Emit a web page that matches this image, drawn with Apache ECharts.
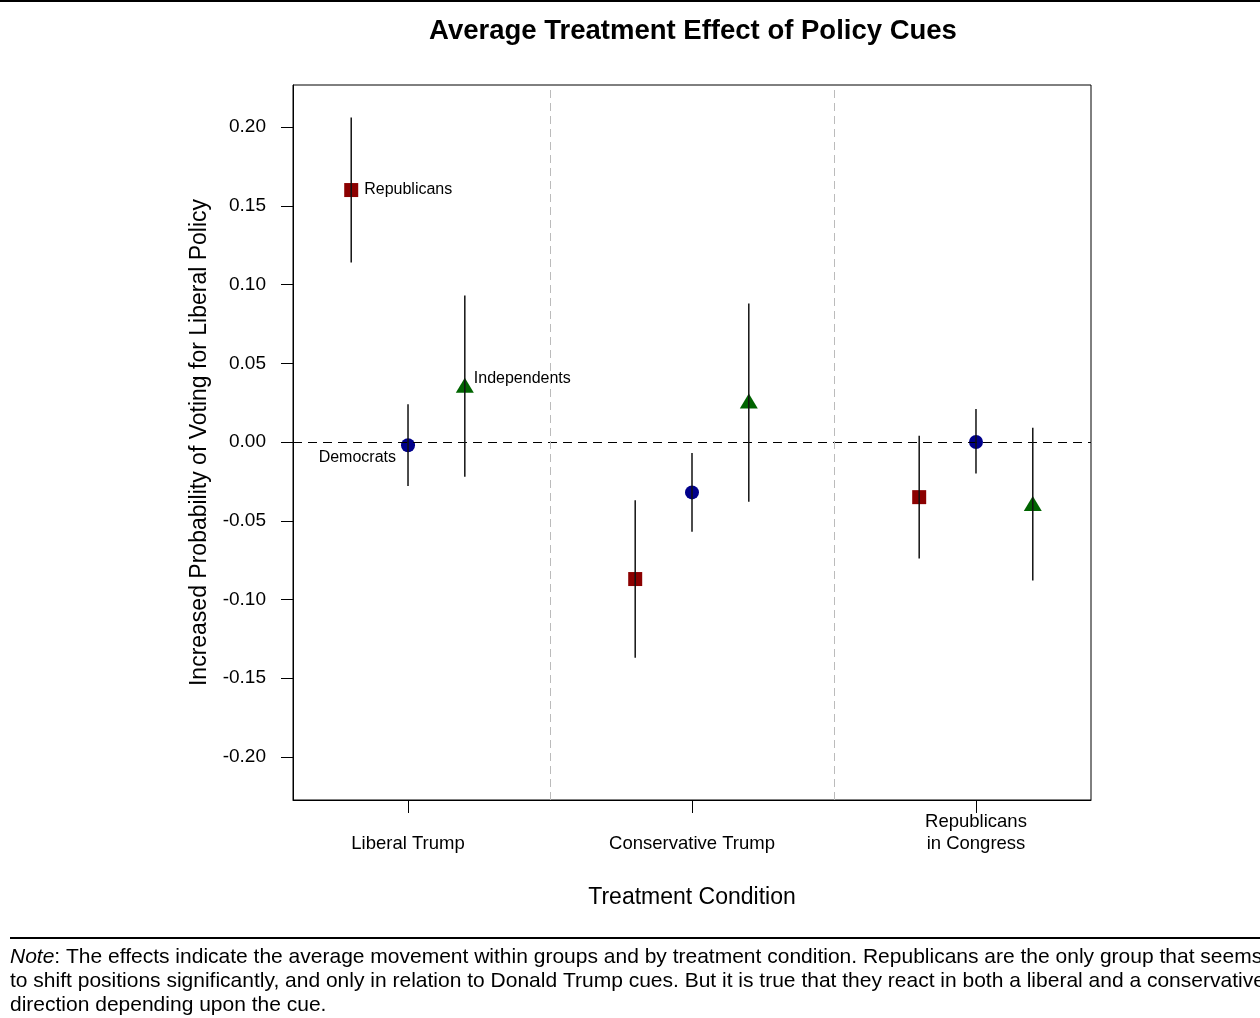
<!DOCTYPE html>
<html>
<head>
<meta charset="utf-8">
<title>Average Treatment Effect of Policy Cues</title>
<script src="https://cdn.jsdelivr.net/npm/echarts@6/dist/echarts.min.js"></script>
<style>
  html, body { margin: 0; padding: 0; background: #fff; }
  #main { width: 1260px; height: 1018px; }
</style>
</head>
<body>
<div id="main"></div>
<script>
// treatment conditions (x positions 1, 2, 3)
const conditions = ["Liberal Trump", "Conservative Trump", "Republicans\nin Congress"];
const yTicks = [-0.2, -0.15, -0.1, -0.05, 0, 0.05, 0.1, 0.15, 0.2];

// point estimates and confidence bounds
const repEst = [0.160, -0.087, -0.035];
const repLow = [0.114, -0.137, -0.074];
const repHigh = [0.206, -0.037, 0.004];

const demEst = [-0.002, -0.032, 0.000];
const demLow = [-0.028, -0.057, -0.020];
const demHigh = [0.024, -0.007, 0.021];

const indEst = [0.036, 0.026, -0.039];
const indLow = [-0.022, -0.038, -0.088];
const indHigh = [0.093, 0.088, 0.009];

const FONT = "'Liberation Sans', Arial, Helvetica, sans-serif";

const groups = [
  { name: "Republicans", offset: -0.2, est: repEst, low: repLow, high: repHigh, color: "#8B0000", symbol: "rect", size: 14,
    label: { position: "right", distance: 6, offset: [0, 0] } },
  { name: "Democrats", offset: 0, est: demEst, low: demLow, high: demHigh, color: "#00008B", symbol: "circle", size: 14,
    label: { position: "left", distance: 5, offset: [0, 12] } },
  { name: "Independents", offset: 0.2, est: indEst, low: indLow, high: indHigh, color: "#006400", symbol: "triangle", size: [18, 15],
    label: { position: "right", distance: 0, offset: [0, -7] } }
];

const chart = echarts.init(document.getElementById("main"));

const series = [];
groups.forEach((g) => {
  // error bars
  series.push({
    type: "custom",
    name: g.name + " CI",
    z: 5,
    silent: true,
    data: g.est.map((v, i) => [i + 1 + g.offset, g.low[i], g.high[i]]),
    renderItem: (params, api) => {
      const p1 = api.coord([api.value(0), api.value(1)]);
      const p2 = api.coord([api.value(0), api.value(2)]);
      return {
        type: "line",
        shape: { x1: p1[0], y1: p1[1], x2: p2[0], y2: p2[1] },
        style: { stroke: "#111", lineWidth: 1.5 }
      };
    }
  });
  // point estimates (only first condition gets a text label)
  series.push({
    type: "scatter",
    name: g.name,
    z: 3,
    symbol: g.symbol,
    symbolSize: g.size,
    itemStyle: { color: g.color, opacity: 1 },
    data: g.est.map((v, i) => {
      const item = { value: [i + 1 + g.offset, v] };
      if (i === 0) {
        item.label = {
          show: true,
          formatter: g.name,
          position: g.label.position,
          distance: g.label.distance,
          offset: g.label.offset,
          color: "#000",
          fontSize: 16,
          fontFamily: FONT
        };
      }
      return item;
    })
  });
});

// reference lines: zero line and condition separators
series.push({
  type: "line",
  data: [],
  markLine: {
    silent: true,
    symbol: "none",
    animation: false,
    label: { show: false },
    data: [
      { yAxis: 0, lineStyle: { color: "#000", type: [9, 6], width: 1.2 } },
      { xAxis: 1.5, lineStyle: { color: "#bbb", type: [8, 5], width: 1 } },
      { xAxis: 2.5, lineStyle: { color: "#bbb", type: [8, 5], width: 1 } }
    ]
  }
});

const option = {
  animation: false,
  backgroundColor: "#fff",
  textStyle: { fontFamily: FONT },
  title: {
    text: "Average Treatment Effect of Policy Cues",
    left: 688,
    top: 12,
    textAlign: "center",
    textStyle: { fontFamily: FONT, fontSize: 27.5, fontWeight: "bold", color: "#000" }
  },
  grid: {
    left: 293, right: 169, top: 85, bottom: 218,
    show: true, borderColor: "#000", borderWidth: 1, backgroundColor: "transparent"
  },
  xAxis: {
    type: "value",
    min: 0.595,
    max: 3.405,
    name: "Treatment Condition",
    nameLocation: "middle",
    nameGap: 86,
    nameTextStyle: { fontFamily: FONT, fontSize: 23, color: "#000" },
    splitLine: { show: false },
    axisLine: { show: true, onZero: false, lineStyle: { color: "#000", width: 1 } },
    axisTick: { show: true, customValues: [1, 2, 3], length: 13, lineStyle: { color: "#000" } },
    axisLabel: {
      customValues: [1, 2, 3],
      formatter: (v) => conditions[Math.round(v) - 1],
      margin: 55,
      verticalAlign: "bottom",
      lineHeight: 22,
      fontSize: 18.5,
      color: "#000",
      fontFamily: FONT
    }
  },
  yAxis: {
    type: "value",
    min: -0.2273,
    max: 0.2267,
    name: "Increased Probability of Voting for Liberal Policy",
    nameLocation: "middle",
    nameGap: 82,
    nameTextStyle: { fontFamily: FONT, fontSize: 23, color: "#000" },
    splitLine: { show: false },
    axisLine: { show: true, onZero: false, lineStyle: { color: "#000", width: 1 } },
    axisTick: { show: true, customValues: yTicks, length: 12, lineStyle: { color: "#000" } },
    axisLabel: {
      customValues: yTicks,
      formatter: (v) => v.toFixed(2),
      margin: 27,
      fontSize: 19,
      color: "#000",
      fontFamily: FONT
    }
  },
  graphic: [
    { type: "line", shape: { x1: 0, y1: 1, x2: 1260, y2: 1 }, style: { stroke: "#000", lineWidth: 2 } },
    { type: "line", shape: { x1: 10, y1: 938, x2: 1260, y2: 938 }, style: { stroke: "#000", lineWidth: 2 } },
    {
      type: "text",
      left: 10,
      top: 945,
      style: {
        text: "{i|Note}: The effects indicate the average movement within groups and by treatment condition. Republicans are the only group that seems\n" +
          "to shift positions significantly, and only in relation to Donald Trump cues. But it is true that they react in both a liberal and a conservative\n" +
          "direction depending upon the cue.",
        fontFamily: FONT,
        fontSize: 21,
        lineHeight: 24,
        fill: "#000",
        rich: { i: { fontStyle: "italic", fontFamily: FONT, fontSize: 21, lineHeight: 24 } }
      }
    }
  ],
  series: series
};

chart.setOption(option);
</script>
</body>
</html>
